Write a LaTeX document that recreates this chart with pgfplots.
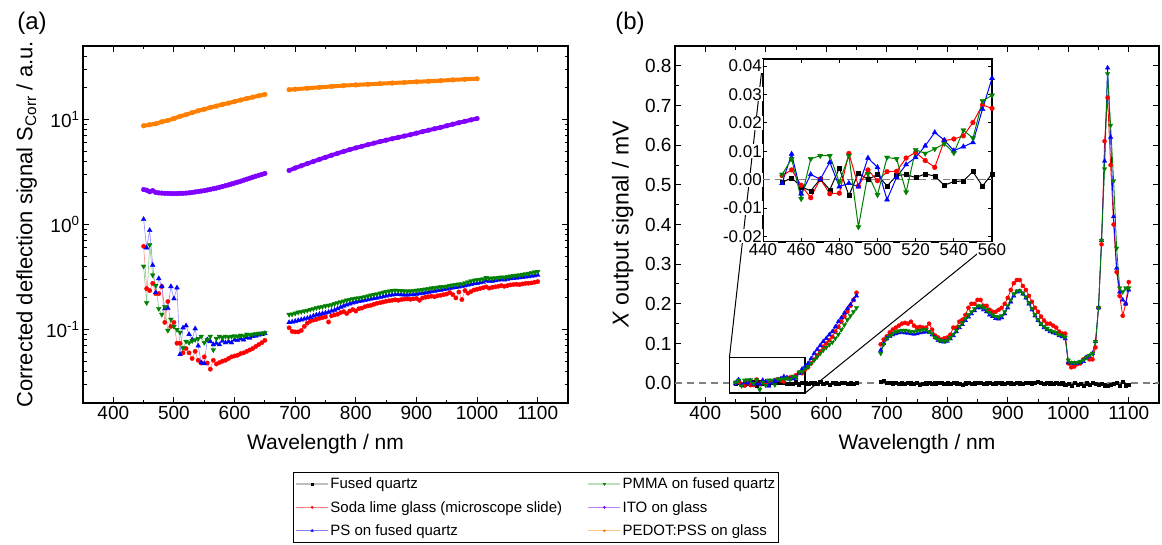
\documentclass[border=0pt]{standalone}
\usepackage{pgfplots}
\pgfplotsset{compat=1.18}
\usepackage{pgfplotstable}
\usepackage{fontspec}
\setmainfont{Liberation Sans}

\definecolor{cRed}{RGB}{255,0,0}
\definecolor{cBlue}{RGB}{0,0,255}
\definecolor{cGreen}{RGB}{0,128,0}
\definecolor{cPurple}{RGB}{128,0,255}
\definecolor{cOrange}{RGB}{255,128,0}

\newcommand{\tickfont}{\fontsize{19}{22}\selectfont}
\newcommand{\labfont}{\fontsize{21}{24}\selectfont}
\newcommand{\legfont}{\fontsize{15}{17}\selectfont}
\newcommand{\insfont}{\fontsize{17}{19}\selectfont}

% ---------- panel (a) data ----------
\pgfplotstableread{
x r b g
450 0.62 1.12 0.40
455 0.245 0.60 0.18
460 0.235 0.88 0.64
465 0.275 0.41 0.33
470 0.22 0.225 0.262
475 0.22 0.306 0.158
480 0.257 0.257 0.139
485 0.117 0.158 0.165
490 0.185 0.16 0.098
495 0.107 0.257 0.125
500 0.117 0.197 0.107
505 0.074 0.25 0.100
510 0.074 0.058 0.094
515 0.060 0.104 0.067
520 0.066 0.109 0.077
525 0.060 0.090 0.075
530 0.053 0.080 0.078
535 0.062 0.102 0.080
540 0.051 0.070 0.082
545 0.048 0.0485 0.086
550 0.055 0.0475 0.075
555 0.048 0.080 0.080
560 0.042 0.077 0.086
565 0.051 0.072 0.064
570 0.047 0.074 0.082
575 0.0485 0.072 0.086
580 0.050 0.078 0.084
585 0.051 0.075 0.086
590 0.053 0.077 0.085
595 0.055 0.075 0.086
600 0.056 0.080 0.087
605 0.057 0.079 0.086
610 0.059 0.082 0.088
615 0.060 0.080 0.087
620 0.062 0.084 0.090
625 0.064 0.083 0.089
630 0.066 0.086 0.090
635 0.069 0.087 0.091
640 0.072 0.089 0.092
645 0.075 0.090 0.092
650 0.079 0.092 0.093
}\tabAlow

\pgfplotstableread{
x r b g
690 0.104 0.117 0.139
695 0.096 0.118 0.140
700 0.095 0.120 0.143
705 0.095 0.122 0.146
710 0.098 0.124 0.148
715 0.107 0.126 0.150
720 0.115 0.128 0.152
725 0.120 0.131 0.155
730 0.123 0.135 0.158
735 0.125 0.138 0.161
740 0.128 0.140 0.163
745 0.130 0.142 0.165
750 0.132 0.144 0.168
755 0.118 0.146 0.170
760 0.135 0.150 0.172
765 0.138 0.153 0.176
770 0.140 0.158 0.180
775 0.145 0.163 0.183
780 0.148 0.168 0.186
785 0.142 0.172 0.190
790 0.150 0.176 0.193
795 0.155 0.180 0.196
800 0.150 0.183 0.198
805 0.158 0.186 0.200
810 0.160 0.188 0.202
815 0.165 0.190 0.205
820 0.168 0.193 0.208
825 0.170 0.196 0.212
830 0.174 0.198 0.215
835 0.178 0.200 0.218
840 0.180 0.203 0.222
845 0.183 0.206 0.226
850 0.186 0.209 0.229
855 0.188 0.212 0.232
860 0.190 0.214 0.235
865 0.192 0.216 0.236
870 0.190 0.216 0.235
875 0.193 0.215 0.234
880 0.195 0.214 0.233
885 0.196 0.214 0.232
890 0.194 0.215 0.233
895 0.196 0.216 0.234
900 0.198 0.218 0.236
905 0.190 0.220 0.238
910 0.200 0.222 0.240
915 0.203 0.224 0.242
920 0.205 0.227 0.245
925 0.208 0.230 0.248
930 0.205 0.233 0.250
935 0.210 0.236 0.252
940 0.212 0.238 0.254
945 0.215 0.241 0.256
950 0.218 0.244 0.258
955 0.225 0.247 0.262
960 0.215 0.250 0.265
965 0.200 0.252 0.268
970 0.228 0.255 0.270
975 0.193 0.258 0.272
980 0.235 0.262 0.278
985 0.222 0.266 0.284
990 0.230 0.270 0.290
995 0.238 0.274 0.294
1000 0.242 0.276 0.297
1005 0.246 0.280 0.300
1010 0.250 0.283 0.302
1015 0.255 0.292 0.312
1020 0.248 0.288 0.306
1025 0.252 0.290 0.308
1030 0.255 0.293 0.310
1035 0.258 0.296 0.312
1040 0.262 0.300 0.315
1045 0.258 0.298 0.313
1050 0.262 0.302 0.318
1055 0.266 0.306 0.322
1060 0.268 0.308 0.325
1065 0.270 0.310 0.328
1070 0.268 0.312 0.330
1075 0.272 0.315 0.334
1080 0.275 0.318 0.338
1085 0.276 0.320 0.342
1090 0.278 0.323 0.348
1095 0.282 0.326 0.352
1100 0.286 0.330 0.356
}\tabAhigh

\pgfplotstableread{
x ito
450 2.15
455 2.12
460 2.05
465 2.10
470 2.02
475 2.00
480 1.99
485 1.98
490 1.98
495 1.97
500 1.97
505 1.97
510 1.98
515 1.98
520 1.99
525 2.00
530 2.02
535 2.04
540 2.06
545 2.08
550 2.10
555 2.13
560 2.16
565 2.19
570 2.22
575 2.26
580 2.30
585 2.34
590 2.38
595 2.43
600 2.48
605 2.53
610 2.58
615 2.64
620 2.70
625 2.76
630 2.82
635 2.88
640 2.94
645 3.00
650 3.06
}\tabItoLow

\pgfplotstableread{
x ito
690 3.27
700 3.45
710 3.62
720 3.80
730 3.98
740 4.17
750 4.36
760 4.56
770 4.76
780 4.96
790 5.16
800 5.36
810 5.55
820 5.75
830 5.95
840 6.15
850 6.35
860 6.55
870 6.75
880 6.95
890 7.15
900 7.40
910 7.65
920 7.90
930 8.15
940 8.40
950 8.70
960 9.00
970 9.30
980 9.60
990 9.90
1000 10.2
}\tabItoHigh

\pgfplotstableread{
x ped
450 8.7
460 8.9
470 9.1
480 9.5
490 9.8
500 10.2
510 10.7
520 11.1
530 11.6
540 12.1
550 12.5
560 13.0
570 13.4
580 13.9
590 14.3
600 14.8
610 15.3
620 15.8
630 16.3
640 16.8
650 17.3
}\tabPedLow

\pgfplotstableread{
x ped
690 19.2
700 19.4
720 19.8
740 20.2
760 20.6
780 21.0
800 21.3
820 21.6
840 21.9
860 22.2
880 22.5
900 22.8
920 23.1
940 23.4
960 23.8
980 24.1
1000 24.4
}\tabPedHigh

% ---------- panel (b) data ----------
\pgfplotstableread{
x k r b g
450 -0.0010 0.0014 -0.0013 0.0018
455 0.0006 0.0034 0.0090 0.0073
460 -0.0025 -0.0020 -0.0050 -0.0068
465 -0.0040 -0.0064 0.0018 0.0073
470 0.0002 0.0002 0.0001 0.0084
475 -0.0036 -0.0050 0.0061 0.0084
480 0.0040 -0.0048 -0.0025 -0.0009
485 -0.0056 0.0092 -0.0013 0.0084
490 0.0023 -0.0023 -0.0025 -0.0167
495 0.0000 0.0034 0.0076 0.0020
500 0.0018 -0.0004 0.0043 -0.0054
505 -0.0023 0.0028 -0.0071 0.0078
510 0.0014 0.0029 0.0008 0.0073
515 0.0018 0.0076 0.0053 -0.0044
520 0.0007 0.0096 0.0078 0.0105
525 0.0020 0.0067 0.0119 0.0092
530 0.0012 0.0043 0.0166 0.0108
535 -0.0020 0.0137 0.0139 0.0127
540 -0.0007 0.0143 0.0102 0.0094
545 -0.0005 0.0154 0.0116 0.0174
550 0.0028 0.0201 0.0131 0.0146
555 -0.0023 0.0263 0.0248 0.0277
560 0.0020 0.0251 0.0357 0.0297
565 0.001 0.034 0.042 0.036
570 -0.002 0.040 0.050 0.042
575 0.002 0.050 0.062 0.050
580 0.000 0.060 0.075 0.058
585 -0.001 0.070 0.085 0.066
590 0.003 0.080 0.095 0.075
595 -0.002 0.092 0.105 0.083
600 0.001 0.100 0.113 0.090
605 -0.003 0.108 0.122 0.097
610 0.002 0.117 0.130 0.103
615 0.000 0.130 0.142 0.113
620 -0.002 0.142 0.155 0.123
625 0.001 0.155 0.165 0.135
630 0.002 0.168 0.177 0.147
635 -0.001 0.180 0.188 0.160
640 0.000 0.195 0.198 0.170
645 -0.002 0.210 0.210 0.180
650 0.001 0.228 0.220 0.190
}\tabBlow

\pgfplotstableread{
x k r b g
690 0.003 0.098 0.083 0.075
695 0.006 0.110 0.100 0.098
700 0.002 0.118 0.112 0.112
705 0.001 0.128 0.118 0.120
710 0.000 0.135 0.122 0.125
715 0.001 0.140 0.125 0.130
720 -0.001 0.145 0.127 0.132
725 0.000 0.150 0.128 0.133
730 -0.002 0.152 0.127 0.133
735 0.001 0.150 0.126 0.132
740 0.000 0.155 0.125 0.130
745 -0.001 0.145 0.124 0.130
750 0.001 0.140 0.125 0.132
755 -0.003 0.142 0.127 0.133
760 -0.001 0.140 0.128 0.135
765 0.000 0.140 0.130 0.135
770 0.001 0.150 0.128 0.130
775 -0.001 0.135 0.122 0.124
780 0.000 0.120 0.115 0.115
785 0.002 0.115 0.108 0.110
790 0.001 0.110 0.105 0.107
795 -0.001 0.113 0.104 0.106
800 0.000 0.115 0.106 0.108
805 -0.002 0.122 0.112 0.115
810 0.001 0.140 0.120 0.123
815 0.000 0.140 0.130 0.133
820 -0.001 0.155 0.140 0.143
825 -0.003 0.160 0.148 0.152
830 0.000 0.172 0.158 0.162
835 0.001 0.190 0.167 0.172
840 -0.001 0.200 0.175 0.180
845 0.000 0.200 0.183 0.188
850 0.002 0.210 0.190 0.195
855 0.001 0.210 0.190 0.195
860 -0.001 0.195 0.185 0.190
865 0.000 0.195 0.180 0.185
870 0.001 0.185 0.172 0.178
875 -0.002 0.180 0.168 0.172
880 0.000 0.180 0.163 0.168
885 0.002 0.185 0.162 0.167
890 0.000 0.190 0.165 0.170
895 -0.001 0.200 0.175 0.180
900 0.001 0.215 0.190 0.195
905 0.000 0.235 0.205 0.210
910 -0.002 0.252 0.220 0.225
915 0.001 0.260 0.230 0.232
920 0.000 0.260 0.232 0.233
925 -0.001 0.245 0.225 0.227
930 0.002 0.235 0.215 0.217
935 0.001 0.220 0.200 0.203
940 0.000 0.205 0.185 0.188
945 0.002 0.190 0.170 0.173
950 0.003 0.180 0.158 0.160
955 0.001 0.168 0.148 0.150
960 -0.001 0.158 0.140 0.143
965 0.002 0.150 0.135 0.138
970 0.000 0.150 0.130 0.133
975 -0.001 0.145 0.127 0.130
980 0.001 0.140 0.125 0.127
985 -0.002 0.130 0.120 0.123
990 0.000 0.125 0.117 0.120
995 -0.003 0.125 0.112 0.116
1000 -0.002 0.050 0.053 0.058
1005 -0.006 0.040 0.050 0.052
1010 0.001 0.042 0.050 0.052
1015 -0.004 0.048 0.050 0.052
1020 -0.002 0.050 0.052 0.055
1025 -0.007 0.060 0.055 0.058
1030 0.000 0.065 0.065 0.065
1035 -0.003 0.060 0.068 0.070
1040 0.001 0.060 0.075 0.075
1045 -0.002 0.090 0.105 0.105
1050 -0.004 0.190 0.190 0.190
1055 -0.001 0.350 0.360 0.360
1060 -0.005 0.610 0.560 0.540
1065 -0.006 0.720 0.795 0.780
1070 -0.003 0.550 0.620 0.650
1075 -0.002 0.400 0.420 0.510
1080 0.002 0.280 0.290 0.340
1085 -0.006 0.220 0.230 0.240
1090 0.003 0.170 0.210 0.230
1095 -0.005 0.200 0.200 0.240
1100 -0.003 0.255 0.235 0.240
}\tabBhigh

\pgfplotsset{
  common/.style={
    scale only axis, anchor=south west,
    xmin=350, xmax=1150,
    xtick={400,500,600,700,800,900,1000,1100}, minor x tick num=1,
    tick align=inside, major tick length=6pt, minor tick length=3.5pt,
    axis line style={line width=1.3pt},
    tick style={black, line width=1pt},
    tick label style={font=\tickfont},
    label style={font=\labfont},
    /pgf/number format/assume math mode=true,
    /pgf/number format/1000 sep={},
    xlabel={Wavelength / nm},
    xlabel style={at={(axis description cs:0.5,-0.115)}, anchor=center},
  },
  aR/.style={draw=cRed!45, line width=0.6pt, mark=*, mark size=2.2pt, mark options={draw=cRed, fill=cRed, line width=0.3pt}},
  aB/.style={draw=cBlue!45, line width=0.6pt, mark=triangle*, mark size=2.8pt, mark options={draw=cBlue, fill=cBlue, line width=0.3pt}},
  aG/.style={draw=cGreen!45, line width=0.6pt, mark=triangle*, mark size=2.8pt, mark options={draw=cGreen, fill=cGreen, rotate=180, line width=0.3pt}},
  aI/.style={draw=cPurple, line width=4pt, mark=*, mark size=2.4pt, mark options={draw=cPurple, fill=cPurple, line width=0.3pt}},
  aO/.style={draw=cOrange, line width=4pt, mark=*, mark size=2.4pt, mark options={draw=cOrange, fill=cOrange, line width=0.3pt}},
  bK/.style={draw=black, line width=1.2pt, mark=square*, mark size=1.6pt, mark options={draw=black, fill=black, line width=0.3pt}},
  bR/.style={draw=cRed, line width=0.8pt, mark=*, mark size=2.1pt, mark options={draw=cRed, fill=cRed, line width=0.3pt}},
  bB/.style={draw=cBlue, line width=0.8pt, mark=triangle*, mark size=2.6pt, mark options={draw=cBlue, fill=cBlue, line width=0.3pt}},
  bG/.style={draw=cGreen, line width=0.8pt, mark=triangle*, mark size=2.6pt, mark options={draw=cGreen, fill=cGreen, rotate=180, line width=0.3pt}},
}

\begin{document}
\begin{tikzpicture}

% ================= panel (a) =================
\begin{axis}[common, at={(83pt,142pt)}, width=485pt, height=357pt,
  ymode=log, ymin=0.02, ymax=50,
  ytick={0.1,1,10},
  yticklabels={10\textsuperscript{-1},10\textsuperscript{0},10\textsuperscript{1}},
  minor ytick={0.02,0.03,0.04,0.05,0.06,0.07,0.08,0.09,0.2,0.3,0.4,0.5,0.6,0.7,0.8,0.9,2,3,4,5,6,7,8,9,20,30,40,50},
  ylabel={Corrected deflection signal S\textsubscript{Corr} / a.u.},
  ylabel style={at={(axis description cs:-0.116,0.5)}, anchor=center, font=\fontsize{22}{25}\selectfont},
  legend image code/.code={\draw[mark repeat=2,mark phase=2] plot coordinates {(0pt,0pt) (16pt,0pt) (32pt,0pt)};},
  legend columns=2,
  legend cell align=left,
  legend style={at={(axis description cs:0.433,-0.193)}, anchor=north west,
    draw=black, line width=0.8pt, fill=white, font=\legfont,
    row sep=8pt, inner xsep=2pt, inner ysep=4pt,
    /tikz/column 2/.style={column sep=24pt},
    nodes={inner sep=1.5pt}},
]
\addplot[aO, forget plot] table[x=x, y=ped] {\tabPedLow};
\addplot[aO, forget plot] table[x=x, y=ped] {\tabPedHigh};
\addplot[aI, forget plot] table[x=x, y=ito] {\tabItoLow};
\addplot[aI, forget plot] table[x=x, y=ito] {\tabItoHigh};
\addplot[aR, forget plot] table[x=x, y=r] {\tabAlow};
\addplot[aR, forget plot] table[x=x, y=r] {\tabAhigh};
\addplot[aB, forget plot] table[x=x, y=b] {\tabAlow};
\addplot[aB, forget plot] table[x=x, y=b] {\tabAhigh};
\addplot[aG, forget plot] table[x=x, y=g] {\tabAlow};
\addplot[aG, forget plot] table[x=x, y=g] {\tabAhigh};

\addlegendimage{draw=black!25, line width=1.5pt, mark=square*, mark size=1.2pt, mark options={draw=black, fill=black, line width=0.2pt}}
\addlegendentry{Fused quartz}
\addlegendimage{draw=cGreen!25, line width=1.5pt, mark=triangle*, mark size=1.6pt, mark options={draw=cGreen, fill=cGreen, rotate=180, line width=0.2pt}}
\addlegendentry{PMMA on fused quartz}
\addlegendimage{draw=cRed!50, line width=0.7pt, mark=*, mark size=1.3pt, mark options={draw=cRed, fill=cRed, line width=0.2pt}}
\addlegendentry{Soda lime glass (microscope slide)}
\addlegendimage{draw=cPurple!50, line width=0.7pt, mark=*, mark size=1.3pt, mark options={draw=cPurple, fill=cPurple, line width=0.2pt}}
\addlegendentry{ITO on glass}
\addlegendimage{draw=cBlue!50, line width=0.7pt, mark=triangle*, mark size=1.6pt, mark options={draw=cBlue, fill=cBlue, line width=0.2pt}}
\addlegendentry{PS on fused quartz}
\addlegendimage{draw=cOrange!45, line width=0.7pt, mark=*, mark size=1.3pt, mark options={draw=cOrange, fill=cOrange, line width=0.2pt}}
\addlegendentry{PEDOT:PSS on glass}
\end{axis}

% ================= panel (b) =================
\begin{axis}[common, at={(675pt,142pt)}, width=484pt, height=357pt,
  ymin=-0.05, ymax=0.85,
  ytick={0,0.1,0.2,0.3,0.4,0.5,0.6,0.7,0.8}, minor y tick num=1,
  yticklabel style={/pgf/number format/fixed, /pgf/number format/fixed zerofill, /pgf/number format/precision=1},
  ylabel={\textit{X} output signal / mV},
  ylabel style={at={(axis description cs:-0.108,0.5)}, anchor=center, font=\fontsize{23}{26}\selectfont},
]
\addplot[draw=black!50, dashed, dash pattern=on 7pt off 5pt, line width=1.8pt, forget plot] coordinates {(350,0) (1150,0)};
\addplot[bK] table[x=x, y=k] {\tabBlow};
\addplot[bK] table[x=x, y=k] {\tabBhigh};
\addplot[bR] table[x=x, y=r] {\tabBlow};
\addplot[bR] table[x=x, y=r] {\tabBhigh};
\addplot[bB] table[x=x, y=b] {\tabBlow};
\addplot[bB] table[x=x, y=b] {\tabBhigh};
\addplot[bG] table[x=x, y=g] {\tabBlow};
\addplot[bG] table[x=x, y=g] {\tabBhigh};
\draw[line width=1.2pt] (axis cs:440,-0.025) rectangle (axis cs:565,0.065);
\coordinate (rNW) at (axis cs:440,0.065);
\coordinate (rSE) at (axis cs:565,-0.025);
\end{axis}

\draw[line width=1pt] (763pt,486pt) -- (rNW);
\draw[line width=1pt] (992pt,303pt) -- (rSE);

% ================= inset =================
\begin{axis}[at={(763pt,303pt)}, anchor=south west, scale only axis,
  width=229pt, height=183pt,
  xmin=440, xmax=560, ymin=-0.022, ymax=0.0425,
  xtick={440,460,480,500,520,540,560},
  ytick={-0.02,-0.01,0,0.01,0.02,0.03,0.04},
  scaled y ticks=false,
  axis background/.style={fill=white},
  axis line style={line width=1.2pt},
  tick align=inside, major tick length=4pt,
  tick style={black, line width=0.8pt},
  tick label style={font=\insfont, fill=white, inner sep=1pt},
  /pgf/number format/assume math mode=true,
  yticklabel style={/pgf/number format/fixed, /pgf/number format/fixed zerofill, /pgf/number format/precision=2},
]
\addplot[draw=black!50, dashed, dash pattern=on 7pt off 5pt, line width=1.8pt, forget plot] coordinates {(440,0) (560,0)};
\addplot[bK, line width=1pt, mark size=2pt, restrict x to domain=440:560] table[x=x, y=k] {\tabBlow};
\addplot[bR, line width=1pt, mark size=2.4pt, restrict x to domain=440:560] table[x=x, y=r] {\tabBlow};
\addplot[bB, line width=1pt, mark size=3pt, restrict x to domain=440:560] table[x=x, y=b] {\tabBlow};
\addplot[bG, line width=1pt, mark size=3pt, restrict x to domain=440:560] table[x=x, y=g] {\tabBlow};
\end{axis}

\node[font=\fontsize{24}{28}\selectfont] at (32pt,522pt) {(a)};
\node[font=\fontsize{24}{28}\selectfont] at (630pt,522pt) {(b)};

\pgfresetboundingbox
\useasboundingbox (0,0) rectangle (1162pt,545pt);
\end{tikzpicture}
\end{document}
